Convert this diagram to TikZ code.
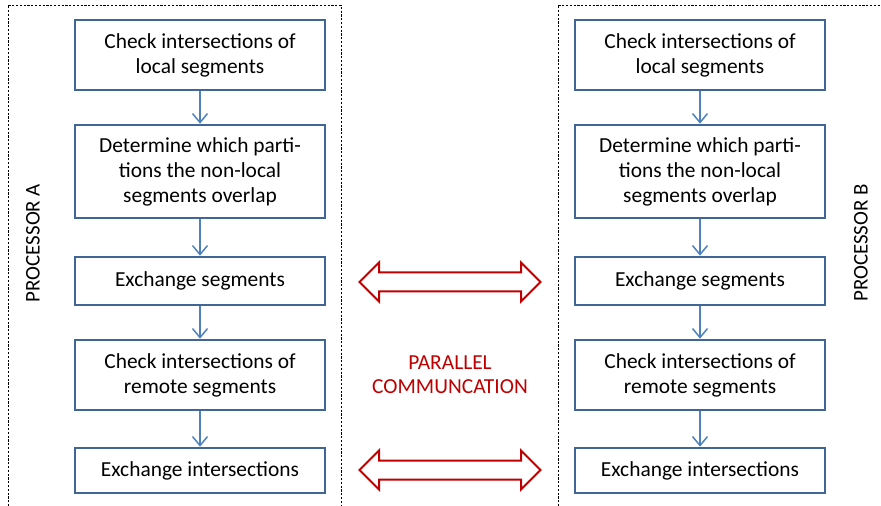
\documentclass[tikz,border=0pt]{standalone}
\usepackage{fontspec}
\setmainfont{Carlito}
\usetikzlibrary{arrows.meta,shapes.arrows}
\definecolor{boxblue}{HTML}{3F6697}
\definecolor{arrblue}{HTML}{4F81BD}
\definecolor{dred}{HTML}{C00000}
\tikzset{
  stepbox/.style={draw=boxblue, line width=2.6bp, minimum width=250bp, align=center,
    font=\fontsize{21.5}{25}\selectfont, inner sep=0pt},
  flow/.style={draw=arrblue, line width=1.5bp, -{Straight Barb[length=9bp,width=15bp,line width=1.5bp]}},
  comm/.style={double arrow, draw=dred, line width=2bp, inner xsep=0pt, inner ysep=8.5bp,
    double arrow head extend=10bp, minimum height=181bp, fill=white},
  proc/.style={draw=black, line width=0.7bp, dash pattern=on 2.2bp off 1.6bp},
  plabel/.style={rotate=90, font=\fontsize{21}{24}\selectfont}
}
\begin{document}
\begin{tikzpicture}[x=1bp,y=-1bp]
\useasboundingbox (0,0) rectangle (881,506);
% processor frames
\draw[proc] (8,510) -- (8,5) -- (341,5) -- (341,510);
\draw[proc] (558,510) -- (558,5) -- (885,5);
\node[plabel] (pa) at (33,243) {PROCESSOR A};
\node[plabel] (pb) at (861,243) {PROCESSOR B};
% left column
\node[stepbox, minimum height=70bp] (a1) at (200,55) {Check intersections of\\local segments};
\node[stepbox, minimum height=93bp] (a2) at (200,171.5) {Determine which parti-\\tions the non-local\\segments overlap};
\node[stepbox, minimum height=48bp] (a3) at (200,281) {Exchange segments};
\node[stepbox, minimum height=70bp] (a4) at (200,375) {Check intersections of\\remote segments};
\node[stepbox, minimum height=45bp] (a5) at (200,470.5) {Exchange intersections};
% right column
\node[stepbox, minimum height=70bp] (b1) at (700,55) {Check intersections of\\local segments};
\node[stepbox, minimum height=93bp] (b2) at (700,171.5) {Determine which parti-\\tions the non-local\\segments overlap};
\node[stepbox, minimum height=48bp] (b3) at (700,281) {Exchange segments};
\node[stepbox, minimum height=70bp] (b4) at (700,375) {Check intersections of\\remote segments};
\node[stepbox, minimum height=45bp] (b5) at (700,470.5) {Exchange intersections};
% flow arrows
\draw[flow] (a1) -- (a2);
\draw[flow] (a2) -- (a3);
\draw[flow] (a3) -- (a4);
\draw[flow] (a4) -- (a5);
\draw[flow] (b1) -- (b2);
\draw[flow] (b2) -- (b3);
\draw[flow] (b3) -- (b4);
\draw[flow] (b4) -- (b5);
% communication
\node[comm] (c1) at (450,282) {};
\node[comm] (c2) at (450,470) {};
\node[text=dred, align=center, font=\fontsize{21.5}{24}\selectfont] (pc) at (450,375) {PARALLEL\\COMMUNCATION};
\end{tikzpicture}
\end{document}
